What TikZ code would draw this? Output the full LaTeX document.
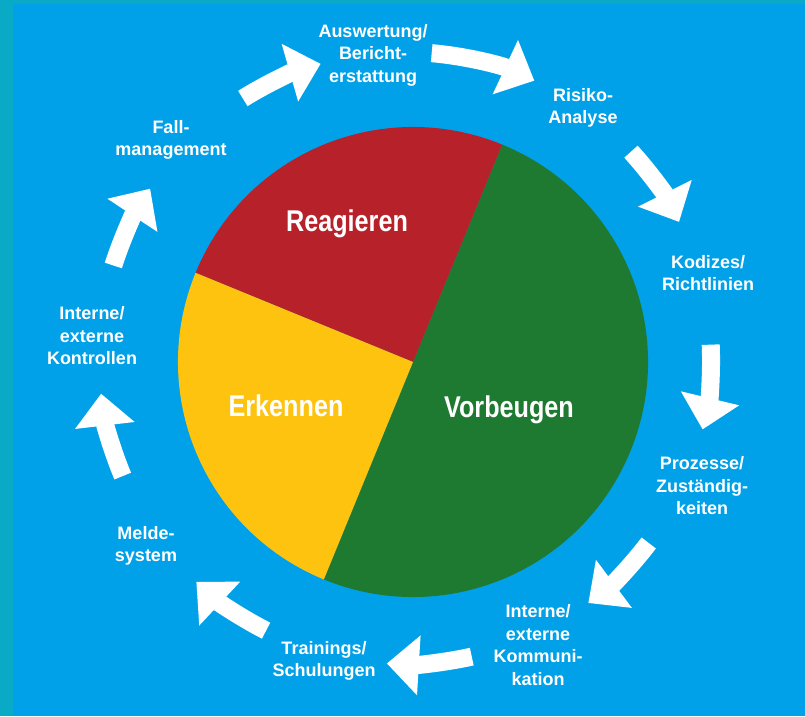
\documentclass[tikz,border=0pt]{standalone}
\usepackage{fontspec}
\setmainfont{Liberation Sans}
\newfontfamily\condfont[FakeStretch=0.84]{Liberation Sans}
\usepackage{tikz}
\usetikzlibrary{calc}
\usetikzlibrary{arrows.meta}

\definecolor{bgblue}{HTML}{00A1E9}
\definecolor{bgteal}{HTML}{08AAC6}
\definecolor{pred}{HTML}{B7222A}
\definecolor{pyellow}{HTML}{FDC30F}
\definecolor{pgreen}{HTML}{1E7A31}

\begin{document}
\begin{tikzpicture}[
        x=0.75pt, y=0.75pt,
        every node/.append style={text=white, align=center, inner sep=0pt},
        lbl/.style={font=\bfseries\fontsize{13.5}{16.9}\selectfont},
        sector/.style={font=\condfont\bfseries\fontsize{22.5}{27}\selectfont, anchor=base},
        cyc/.style={draw=white, line width=13.5pt, -{Triangle[width=43.5pt,length=24pt]}}
    ]
        \fill[bgteal] (0,0) rectangle (805,-716);
        \fill[bgblue] (13,-4) rectangle (805,-716);
        \useasboundingbox (0,0) rectangle (805,-716);

        \coordinate (m) at (413,-362);
        \fill[pgreen] (m) -- ++(-112.3:235) arc[start angle=-112.3, end angle=67.7, radius=235] -- cycle;
        \fill[pred] (m) -- ++(67.7:235) arc[start angle=67.7, end angle=157.7, radius=235] -- cycle;
        \fill[pyellow] (m) -- ++(157.7:235) arc[start angle=157.7, end angle=247.7, radius=235] -- cycle;

        \node (rea) [sector] at (347,-232) {Reagieren};
        \node (erk) [sector] at (286,-416) {Erkennen};
        \node (vor) [sector] at (509,-417) {Vorbeugen};

        \node (1) [lbl] at (373,-55) {Auswertung/\\Bericht-\\erstattung};
        \node (2) [lbl] at (583,-108) {Risiko-\\Analyse};
        \node (3) [lbl] at (708,-273) {Kodizes/\\Richtlinien};
        \node (4) [lbl] at (702,-486) {Prozesse/\\Zuständig-\\keiten};
        \node (5) [lbl] at (538,-645) {Interne/\\externe\\Kommuni-\\kation};
        \node (6) [lbl] at (324,-661) {Trainings/\\Schulungen};
        \node (7) [lbl] at (146,-546) {Melde-\\system};
        \node (8) [lbl] at (92,-336) {Interne/\\externe\\Kontrollen};
        \node (9) [lbl] at (171,-140) {Fall-\\management};

        \coordinate (a) at (405,-358);
        \foreach \from/\to in {122/106, 85/65, 42.4/26.4, 2.5/-13.5, -37.2/-53.2,
                               -77.4/-93.4, -117/-133, -157.3/-173.3, 162.4/146.4}
            \draw [cyc] ($(a)+(\from:306)$) arc[start angle=\from, end angle=\to, radius=306];
    \end{tikzpicture}
\end{document}
